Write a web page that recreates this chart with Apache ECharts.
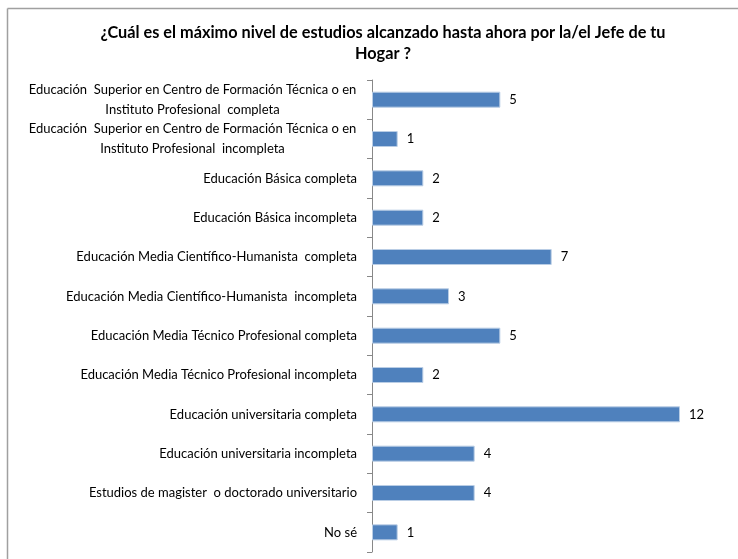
<!DOCTYPE html>
<html>
<head>
<meta charset="utf-8">
<script src="https://cdn.jsdelivr.net/npm/echarts@6/dist/echarts.min.js"></script>
<style>
html,body{margin:0;padding:0;background:#fff;}
#chart{width:738px;height:559px;}
</style>
</head>
<body>
<div id="chart"></div>
<script>
var titleText = "¿Cuál es el máximo nivel de estudios alcanzado hasta ahora por la/el Jefe de tu\nHogar ?";
var categories = [
  "Educación  Superior en Centro de Formación Técnica o en\nInstituto Profesional  completa",
  "Educación  Superior en Centro de Formación Técnica o en\nInstituto Profesional  incompleta",
  "Educación Básica completa",
  "Educación Básica incompleta",
  "Educación Media Científico-Humanista  completa",
  "Educación Media Científico-Humanista  incompleta",
  "Educación Media Técnico Profesional completa",
  "Educación Media Técnico Profesional incompleta",
  "Educación universitaria completa",
  "Educación universitaria incompleta",
  "Estudios de magister  o doctorado universitario",
  "No sé"
];
var values = [5, 1, 2, 2, 7, 3, 5, 2, 12, 4, 4, 1];

var FONT = "Lato, 'Open Sans', sans-serif";
var LABEL_SIZE = 13;
function textWidth(t) {
  var c = document.createElement('canvas').getContext('2d');
  c.font = LABEL_SIZE + 'px ' + FONT;
  return c.measureText(t).width;
}
var blockW = 0;
categories.forEach(function (v) {
  v.split('\n').forEach(function (p) { blockW = Math.max(blockW, textWidth(p)); });
});
blockW = Math.ceil(blockW) + 1;

var chart = echarts.init(document.getElementById('chart'), null, {renderer: 'canvas'});
chart.setOption({
  backgroundColor: '#fff',
  animation: false,
  graphic: [
    {type: 'line', shape: {x1: 7.5, y1: 8.5, x2: 738, y2: 8.5}, style: {stroke: '#a0a0a0', lineWidth: 1.5}},
    {type: 'line', shape: {x1: 7.5, y1: 8.5, x2: 7.5, y2: 559}, style: {stroke: '#a0a0a0', lineWidth: 1.5}}
  ],
  title: {
    text: titleText,
    left: 378, top: 17, textAlign: 'center',
    textStyle: {fontFamily: FONT, fontSize: 16.3, fontWeight: 'bold', color: '#000', lineHeight: 21}
  },
  grid: {left: 372, right: 58, top: 80, bottom: 7, containLabel: false},
  xAxis: {
    type: 'value', min: 0, max: 12, show: false
  },
  yAxis: {
    type: 'category', data: categories, inverse: true,
    axisLine: {show: true, lineStyle: {color: '#888', width: 1}},
    axisTick: {show: true, length: 5, lineStyle: {color: '#888'}},
    axisLabel: {
      interval: 0, hideOverlap: false,
      margin: 15, fontFamily: FONT, fontSize: LABEL_SIZE, color: '#000', lineHeight: 20,
      formatter: function (v) {
        if (v.indexOf('\n') >= 0) {
          var parts = v.split('\n');
          return '{c|' + parts[0] + '}\n{c|' + parts[1] + '}';
        }
        return v;
      },
      rich: {c: {width: blockW, align: 'center', fontFamily: FONT, fontSize: LABEL_SIZE, color: '#000', lineHeight: 20}}
    },
    splitLine: {show: false}
  },
  series: [{
    type: 'bar', data: values, barWidth: 16,
    itemStyle: {color: '#4f81bd', borderColor: '#b9cde5', borderWidth: 1},
    label: {show: true, position: 'right', distance: 9, fontFamily: FONT, fontSize: 13, color: '#000'}
  }]
});
</script>
</body>
</html>
